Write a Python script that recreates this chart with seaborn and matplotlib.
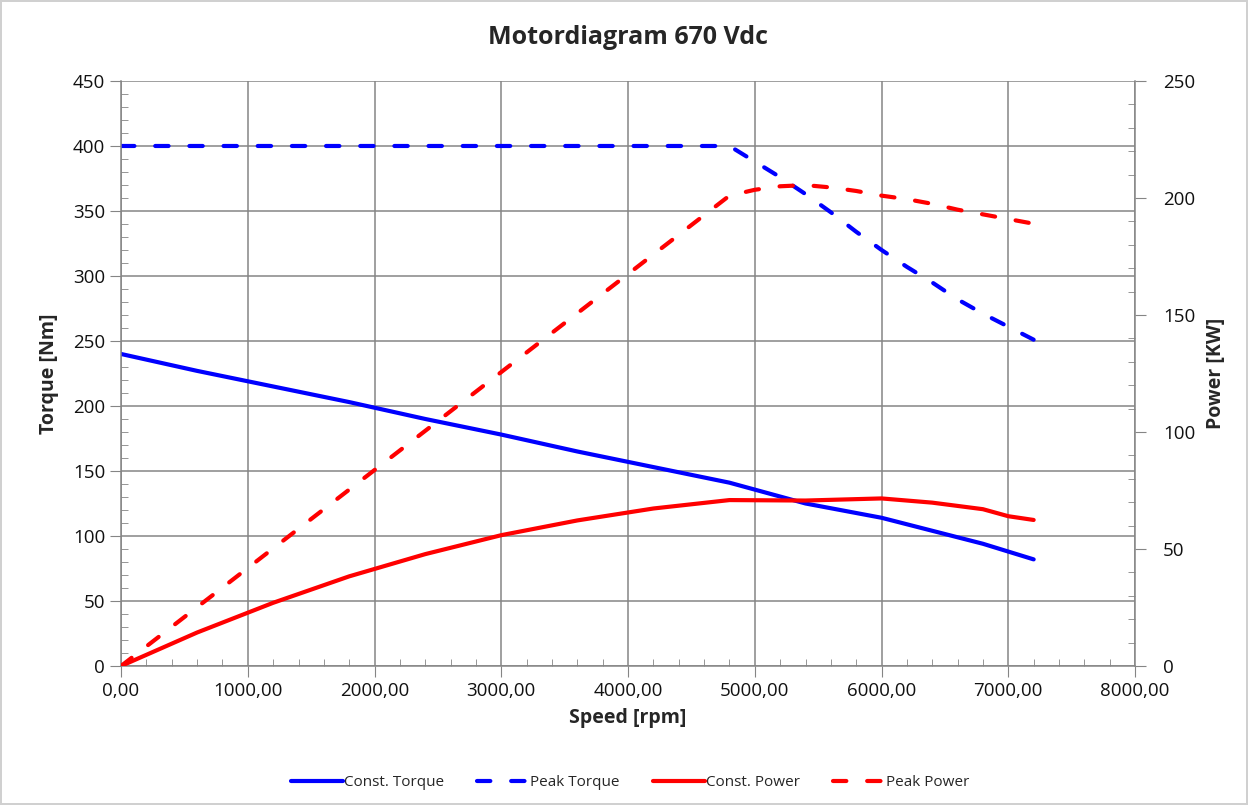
#Motor diagram: torque and power against speed
import matplotlib
matplotlib.use('Agg')
import matplotlib.pyplot as plt
import matplotlib.ticker as mt
import pandas as pd
import seaborn as sb

# data
speed_const = [0, 600, 1200, 1800, 2400, 3000, 3600, 4200, 4800, 5400, 6000, 6400, 6800, 7000, 7200]
torque_const = [240, 227, 215, 203, 190, 178, 165, 153, 141, 125, 114, 104, 94, 88, 82]
power_const = [0, 14.3, 27.0, 38.3, 47.8, 55.9, 62.2, 67.3, 70.9, 70.7, 71.6, 69.8, 67.0, 64.0, 62.4]

speed_peak = [0, 4800, 5000, 5200, 5400, 5600, 5800, 6000, 6200, 6400, 6600, 6800, 7000, 7200]
torque_peak = [400, 400, 388, 376, 363, 349, 334, 320, 307, 295, 282, 271, 261, 251]
power_peak = [0, 201, 203.5, 205, 205.5, 204.5, 203, 201, 199.5, 197.5, 195, 193, 191, 189]

sb.set_style('white')
plt.rcParams['font.family'] = ['Open Sans', 'DejaVu Sans']

fig = plt.figure(figsize=(12.48, 8.05), dpi=100)
fig.patch.set_edgecolor('#d0d0d0')
fig.patch.set_linewidth(1.5)
ax = fig.add_axes([0.097, 0.1727, 0.8125, 0.7267])
ax2 = ax.twinx()

const = pd.DataFrame({'speed': speed_const, 'torque': torque_const, 'power': power_const})
peak = pd.DataFrame({'speed': speed_peak, 'torque': torque_peak, 'power': power_peak})

lw = 3.0
dash = (3.2, 5.0)
sb.lineplot(data=const, x='speed', y='torque', ax=ax, color='#0000ff', lw=lw,
            label='Const. Torque', legend=False, solid_capstyle='round')
sb.lineplot(data=peak, x='speed', y='torque', ax=ax, color='#0000ff', lw=lw,
            label='Peak Torque', legend=False, dash_capstyle='round')
sb.lineplot(data=const, x='speed', y='power', ax=ax2, color='#ff0000', lw=lw,
            label='Const. Power', legend=False, solid_capstyle='round')
sb.lineplot(data=peak, x='speed', y='power', ax=ax2, color='#ff0000', lw=lw,
            label='Peak Power', legend=False, dash_capstyle='round')
for l in ax.get_lines()[1:2] + ax2.get_lines()[1:2]:
    l.set_dashes(dash)

# axes
ax.set_xlim(0, 8000)
ax.set_ylim(0, 450)
ax2.set_ylim(0, 250)
ax.xaxis.set_major_locator(mt.MultipleLocator(1000))
ax.xaxis.set_minor_locator(mt.MultipleLocator(200))
ax.yaxis.set_major_locator(mt.MultipleLocator(50))
ax.yaxis.set_minor_locator(mt.MultipleLocator(10))
ax2.yaxis.set_major_locator(mt.MultipleLocator(50))
ax2.yaxis.set_minor_locator(mt.MultipleLocator(10))
ax.xaxis.set_major_formatter(mt.FuncFormatter(lambda v, p: f'{v:.2f}'.replace('.', ',')))

gc = '#858585'
ax.grid(True, which='major', color=gc, lw=1.1)
ax.set_axisbelow(True)
for a in (ax, ax2):
    for s in a.spines.values():
        s.set_visible(False)
ax.spines['left'].set_visible(True)
ax.spines['bottom'].set_visible(True)
ax2.spines['right'].set_visible(True)
for s in (ax.spines['left'], ax.spines['bottom'], ax2.spines['right']):
    s.set_color(gc)
    s.set_linewidth(1.1)

fs = 13.5
ax.tick_params(which='major', direction='out', length=8, color=gc, labelsize=fs, labelcolor='#111111')
ax.tick_params(which='minor', direction='in', length=5, color=gc)
ax.tick_params(axis='x', which='both', bottom=True)
ax.tick_params(axis='y', which='both', left=True)
ax2.tick_params(which='major', direction='out', length=8, color=gc, labelsize=fs, labelcolor='#111111', pad=12)
ax2.tick_params(which='minor', direction='in', length=5, color=gc, right=True)

ax.set_xlabel('Speed [rpm]', fontsize=14, fontweight='bold', labelpad=6)
ax.set_ylabel('Torque [Nm]', fontsize=14, fontweight='bold', labelpad=10)
ax2.set_ylabel('Power [KW]', fontsize=14, fontweight='bold', labelpad=8)
fig.text(0.503, 0.953, 'Motordiagram 670 Vdc', ha='center', va='center', fontsize=18, fontweight='bold')

h1, l1 = ax.get_legend_handles_labels()
h2, l2 = ax2.get_legend_handles_labels()
fig.legend(h1 + h2, l1 + l2, loc='center', bbox_to_anchor=(0.505, 0.028), ncol=4,
           frameon=False, fontsize=11, handlelength=3.4, columnspacing=2.2, handletextpad=0.05)

plt.savefig('out.png', dpi=100)
